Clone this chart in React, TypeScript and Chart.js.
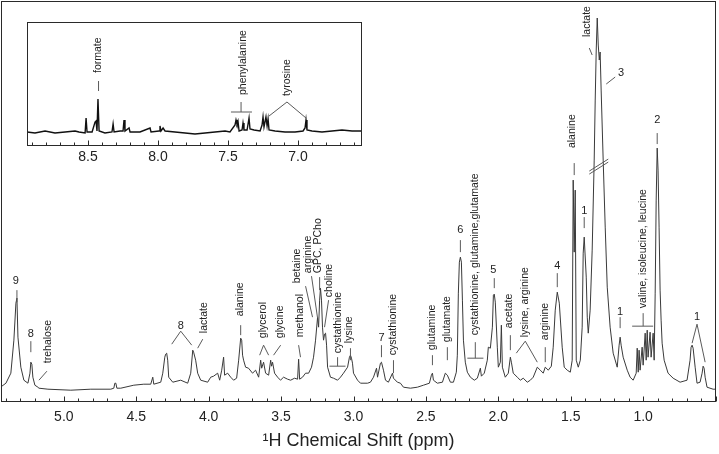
import React, { useEffect, useRef } from "react";
import { Chart, registerables } from "chart.js";
Chart.register(...registerables);

const FONT = '"Liberation Sans", Arial, Helvetica, sans-serif';

// ---- main spectrum (ppm, intensity) ----
const mainPpm = [
  5.428,5.400,5.366,5.345,5.331,5.324,5.317,5.297,5.276,5.248,
  5.234,5.228,5.221,5.214,5.200,5.179,5.172,5.110,4.952,4.814,
  4.676,4.655,4.648,4.641,4.634,4.607,4.517,4.448,4.400,4.386,
  4.379,4.331,4.317,4.303,4.297,4.290,4.283,4.276,4.248,4.193,
  4.145,4.124,4.110,4.104,4.090,4.076,4.055,4.007,3.986,3.966,
  3.938,3.924,3.910,3.897,3.890,3.869,3.848,3.828,3.807,3.793,
  3.779,3.772,3.766,3.759,3.745,3.725,3.697,3.676,3.655,3.641,
  3.634,3.621,3.607,3.586,3.572,3.566,3.559,3.545,3.524,3.504,
  3.483,3.455,3.434,3.407,3.386,3.379,3.372,3.352,3.331,3.310,
  3.290,3.276,3.262,3.248,3.241,3.234,3.228,3.221,3.214,3.207,
  3.200,3.193,3.186,3.179,3.159,3.138,3.110,3.090,3.069,3.041,
  3.028,3.021,3.014,3.007,3.000,2.972,2.952,2.903,2.883,2.862,
  2.841,2.834,2.814,2.807,2.793,2.779,2.759,2.731,2.724,2.697,
  2.676,2.655,2.607,2.559,2.517,2.476,2.462,2.455,2.448,2.421,
  2.386,2.366,2.352,2.331,2.310,2.290,2.283,2.276,2.269,2.262,
  2.255,2.248,2.241,2.228,2.214,2.193,2.166,2.145,2.124,2.117,
  2.097,2.076,2.069,2.055,2.041,2.034,2.028,2.021,2.007,2.000,
  1.986,1.979,1.972,1.952,1.931,1.917,1.910,1.897,1.869,1.848,
  1.828,1.800,1.779,1.759,1.731,1.710,1.690,1.676,1.655,1.634,
  1.621,1.607,1.593,1.579,1.559,1.545,1.524,1.503,1.490,1.483,
  1.476,1.469,1.462,1.448,1.434,1.421,1.414,1.407,1.393,1.386,
  1.379,1.366,1.352,1.338,1.331,1.324,1.317,1.310,1.303,1.297,
  1.290,1.276,1.262,1.248,1.228,1.207,1.179,1.166,1.159,1.152,
  1.138,1.110,1.090,1.069,1.048,1.041,1.034,1.028,1.021,1.007,
  1.000,0.986,0.979,0.972,0.966,0.952,0.945,0.931,0.924,0.917,
  0.910,0.903,0.897,0.890,0.883,0.876,0.869,0.855,0.828,0.793,
  0.745,0.697,0.676,0.669,0.662,0.655,0.641,0.628,0.607,0.593,
  0.586,0.579,0.572,0.559,0.517,0.497,
];
const mainIntensity = [
  16,19,29,62,99,104,65,35,22,19,
  29,40,38,25,17,15,14,13,12,13,
  13,14,19,19,14,14,17,18,18,25,
  18,20,29,45,48,49,42,25,20,22,
  19,29,52,50,42,29,22,20,25,26,
  29,22,32,45,27,29,25,22,24,42,
  64,62,47,42,35,34,29,32,25,42,
  34,40,29,27,42,36,40,29,25,22,
  25,23,22,24,23,43,23,25,29,29,
  35,45,62,85,75,102,114,102,75,62,
  68,69,57,35,25,24,22,25,29,35,
  45,47,44,39,29,22,19,19,20,25,
  34,25,39,40,32,22,20,29,24,20,
  19,15,14,15,17,19,27,29,22,19,
  20,29,27,20,20,30,47,109,140,145,
  140,102,62,40,30,25,22,24,34,26,
  29,42,55,54,75,107,108,100,55,35,
  40,77,35,25,29,45,40,29,25,22,
  24,20,22,25,35,32,29,35,32,36,
  55,92,110,99,55,35,32,30,42,222,
  150,212,42,35,42,75,149,165,125,85,
  69,92,152,242,302,352,384,357,342,350,
  312,242,175,115,75,49,35,57,65,57,
  45,32,25,22,29,54,30,52,32,55,
  37,69,42,72,45,70,45,69,42,109,
  202,254,232,175,112,82,59,42,29,24,
  20,22,42,55,57,54,35,19,20,29,
  36,34,25,15,13,13,
];

// ---- inset spectrum (aromatic region) ----
const insetPpm = [
  8.936,8.879,8.807,8.736,8.664,8.593,8.565,8.521,8.514,8.507,
  8.471,8.450,8.443,8.436,8.429,8.421,8.379,8.329,8.321,8.314,
  8.271,8.250,8.243,8.236,8.207,8.200,8.129,8.057,8.050,7.993,
  7.986,7.979,7.964,7.950,7.879,7.807,7.736,7.664,7.593,7.521,
  7.486,7.450,7.443,7.436,7.429,7.421,7.400,7.393,7.386,7.364,
  7.350,7.343,7.314,7.271,7.257,7.250,7.243,7.229,7.221,7.214,
  7.207,7.164,7.093,7.021,6.964,6.950,6.943,6.936,6.900,6.829,
  6.757,6.686,6.614,6.543,
];
const insetIntensity = [
  14,13,15,13,14,15,14,13,28,14,
  14,24,25,15,47,15,13,14,22,14,
  15,15,26,15,18,14,14,18,14,15,
  20,15,18,15,14,13,12,13,14,15,
  14,21,26,22,25,15,16,23,16,16,
  28,17,16,15,21,29,19,29,20,27,
  16,15,14,14,15,18,26,16,15,14,
  15,16,15,15,
];

// ---- axis settings ----
const mainRange = [0.497, 5.434];
const mainLabelRange = [1.0, 5.0];
const insetRange = [6.543, 8.936];
const insetLabelRange = [7.0, 8.5];
const xTitle = "\u00B9H Chemical Shift (ppm)";

type Lbl = { text: string; ppm: number; v: number };
type Seg = [number, number, number, number];

// ---- annotations (data coordinates) ----
const mainNumberLabels: Lbl[] = [
  { text: "9", ppm: 5.331, v: 121 },
  { text: "8", ppm: 5.228, v: 68 },
  { text: "8", ppm: 4.193, v: 76 },
  { text: "7", ppm: 2.807, v: 64 },
  { text: "6", ppm: 2.262, v: 172 },
  { text: "5", ppm: 2.034, v: 132 },
  { text: "4", ppm: 1.593, v: 136 },
  { text: "1", ppm: 1.407, v: 191 },
  { text: "3", ppm: 1.152, v: 329 },
  { text: "2", ppm: 0.903, v: 282 },
  { text: "1", ppm: 1.159, v: 90 },
  { text: "1", ppm: 0.628, v: 85 },
];
const mainNameLabels: Lbl[] = [
  { text: "trehalose", ppm: 5.11, v: 39 },
  { text: "lactate", ppm: 4.034, v: 69 },
  { text: "alanine", ppm: 3.786, v: 86 },
  { text: "glycerol", ppm: 3.621, v: 64 },
  { text: "glycine", ppm: 3.51, v: 64 },
  { text: "methanol", ppm: 3.372, v: 65 },
  { text: "betaine", ppm: 3.386, v: 119 },
  { text: "arginine", ppm: 3.31, v: 129 },
  { text: "GPC, PCho", ppm: 3.241, v: 129 },
  { text: "choline", ppm: 3.166, v: 105 },
  { text: "cystathionine", ppm: 3.103, v: 49 },
  { text: "lysine", ppm: 3.028, v: 59 },
  { text: "cystathionine", ppm: 2.724, v: 47 },
  { text: "glutamine", ppm: 2.455, v: 52 },
  { text: "glutamate", ppm: 2.352, v: 60 },
  { text: "cystathionine, glutamine,glutamate", ppm: 2.159, v: 67 },
  { text: "acetate", ppm: 1.924, v: 74 },
  { text: "lysine, arginine", ppm: 1.814, v: 65 },
  { text: "arginine", ppm: 1.676, v: 62 },
  { text: "alanine", ppm: 1.49, v: 254 },
  { text: "lactate", ppm: 1.386, v: 365 },
  { text: "valine, isoleucine, leucine", ppm: 1.0, v: 94 },
];
const mainSegments: Seg[] = [
  [5.324, 112, 5.324, 100],
  [5.228, 61, 5.228, 50],
  [5.117, 31, 5.172, 22],
  [4.193, 71, 4.255, 58], [4.193, 71, 4.117, 57],
  [4.041, 63, 4.076, 54],
  [3.779, 77, 3.779, 67],
  [3.621, 57, 3.648, 47], [3.621, 57, 3.586, 47],
  [3.503, 57, 3.552, 47],
  [3.379, 57, 3.366, 45],
  [3.331, 116, 3.283, 85],
  [3.29, 126, 3.248, 84],
  [3.234, 125, 3.234, 112],
  [3.172, 102, 3.2, 75],
  [3.166, 36, 3.055, 36], [3.11, 45, 3.11, 36],
  [3.021, 54, 3.021, 42],
  [2.807, 57, 2.807, 45],
  [2.724, 42, 2.724, 29],
  [2.455, 47, 2.455, 37],
  [2.352, 55, 2.352, 42],
  [2.262, 162, 2.262, 150],
  [2.214, 44, 2.103, 44], [2.159, 60, 2.159, 44],
  [2.028, 124, 2.028, 114],
  [1.917, 67, 1.917, 52],
  [1.814, 61, 1.876, 49], [1.814, 61, 1.731, 40],
  [1.676, 55, 1.676, 40],
  [1.593, 129, 1.593, 115],
  [1.476, 239, 1.476, 227],
  [1.407, 185, 1.407, 174],
  [1.372, 354, 1.352, 347],
  [1.193, 325, 1.255, 318],
  [0.903, 269, 0.903, 258],
  [1.159, 85, 1.159, 74],
  [1.076, 76, 0.931, 76], [1.0, 89, 1.0, 76],
  [0.628, 78, 0.662, 59], [0.628, 78, 0.572, 40],
  // axis break marks on the lactate peak
  [1.372, 228, 1.241, 240], [1.372, 231, 1.241, 243],
];
const insetNameLabels: Lbl[] = [
  { text: "formate", ppm: 8.429, v: 73 },
  { text: "phenylalanine", ppm: 7.393, v: 51 },
  { text: "tyrosine", ppm: 7.079, v: 50 },
];
const insetSegments: Seg[] = [
  [8.425, 65, 8.425, 55],
  [7.479, 34, 7.329, 34], [7.407, 44, 7.407, 34],
  [7.079, 44, 7.207, 30], [7.079, 44, 6.943, 28],
];

function overlay(opts: { names: Lbl[]; numbers: Lbl[]; segs: Seg[]; white: boolean }) {
  return {
    id: "overlay",
    beforeDatasetsDraw(chart: any) {
      if (!opts.white) return;
      const { ctx, chartArea: a } = chart;
      ctx.save();
      ctx.fillStyle = "#fff";
      ctx.fillRect(a.left, a.top, a.right - a.left, a.bottom - a.top);
      ctx.restore();
    },
    afterDatasetsDraw(chart: any) {
      const { ctx, chartArea: a, scales } = chart;
      const xs = scales.x;
      const ys = scales.y;
      ctx.save();
      const L = Math.round(a.left) + 0.5;
      const R = Math.round(a.right) - 0.5;
      const T = Math.round(a.top) + 0.5;
      const B = Math.round(a.bottom) - 0.5;
      ctx.strokeStyle = "#2a2a2a";
      ctx.lineWidth = 1;
      ctx.strokeRect(L, T, R - L, B - T);
      // inward tick marks: minor every 0.1, major every 0.5
      const lo = Math.ceil(Math.min(xs.min, xs.max) * 10 - 1e-6);
      const hi = Math.floor(Math.max(xs.min, xs.max) * 10 + 1e-6);
      ctx.beginPath();
      for (let i = lo; i <= hi; i++) {
        const px = Math.round(xs.getPixelForValue(i / 10)) + 0.5;
        const len = i % 5 === 0 ? 5 : 3;
        ctx.moveTo(px, B);
        ctx.lineTo(px, B - len);
      }
      ctx.stroke();
      // label leader lines
      ctx.strokeStyle = "#5a5a5a";
      ctx.beginPath();
      for (const [p1, v1, p2, v2] of opts.segs) {
        ctx.moveTo(xs.getPixelForValue(p1), ys.getPixelForValue(v1));
        ctx.lineTo(xs.getPixelForValue(p2), ys.getPixelForValue(v2));
      }
      ctx.stroke();
      ctx.fillStyle = "#222";
      ctx.font = `10.5px ${FONT}`;
      ctx.textAlign = "left";
      ctx.textBaseline = "middle";
      for (const l of opts.names) {
        ctx.save();
        ctx.translate(xs.getPixelForValue(l.ppm), ys.getPixelForValue(l.v));
        ctx.rotate(-Math.PI / 2);
        ctx.fillText(l.text, 0, 0);
        ctx.restore();
      }
      ctx.font = `11px ${FONT}`;
      ctx.textAlign = "center";
      for (const l of opts.numbers) {
        ctx.fillText(l.text, xs.getPixelForValue(l.ppm), ys.getPixelForValue(l.v));
      }
      ctx.restore();
    },
  };
}

function xAxis(range: number[], labelRange: number[], padding: number, title: string | null) {
  return {
    type: "linear" as const,
    reverse: true,
    min: range[0],
    max: range[1],
    position: "bottom" as const,
    afterBuildTicks: (scale: any) => {
      scale.ticks = scale.ticks.filter(
        (t: any) => t.value >= labelRange[0] - 1e-6 && t.value <= labelRange[1] + 1e-6
      );
    },
    ticks: {
      stepSize: 0.5,
      includeBounds: false,
      autoSkip: false,
      maxRotation: 0,
      minRotation: 0,
      padding,
      color: "#222",
      font: { family: FONT, size: 14 },
      callback: (v: any) => Number(v).toFixed(1),
    },
    grid: { display: false, drawTicks: false },
    border: { display: false },
    title: title
      ? {
          display: true,
          text: title,
          color: "#222",
          font: { family: FONT, size: 18, lineHeight: 1 },
          padding: { top: 0, bottom: 0 },
        }
      : { display: false },
  };
}

export default function App() {
  const mainRef = useRef<HTMLCanvasElement | null>(null);
  const insetRef = useRef<HTMLCanvasElement | null>(null);

  useEffect(() => {
    const main = new Chart(mainRef.current as HTMLCanvasElement, {
      type: "line",
      data: {
        datasets: [
          {
            data: mainPpm.map((p, i) => ({ x: p, y: mainIntensity[i] })),
            borderColor: "#3a3a3a",
            borderWidth: 1,
            pointRadius: 0,
            tension: 0,
            fill: false,
          },
        ],
      },
      options: {
        animation: false,
        responsive: false,
        maintainAspectRatio: false,
        events: [],
        layout: { padding: { left: 1, right: 3, top: 1, bottom: 4 } },
        plugins: { legend: { display: false }, tooltip: { enabled: false } },
        scales: {
          x: xAxis(mainRange, mainLabelRange, 6.5, xTitle) as any,
          y: { display: false, min: 0, max: 401 },
        },
      },
      plugins: [overlay({ names: mainNameLabels, numbers: mainNumberLabels, segs: mainSegments, white: false })],
    });
    const inset = new Chart(insetRef.current as HTMLCanvasElement, {
      type: "line",
      data: {
        datasets: [
          {
            data: insetPpm.map((p, i) => ({ x: p, y: insetIntensity[i] })),
            borderColor: "#111",
            borderWidth: 1.4,
            pointRadius: 0,
            tension: 0,
            fill: false,
          },
        ],
      },
      options: {
        animation: false,
        responsive: false,
        maintainAspectRatio: false,
        events: [],
        layout: { padding: { left: 7, right: 8, top: 7, bottom: 1.2 } },
        plugins: { legend: { display: false }, tooltip: { enabled: false } },
        scales: {
          x: xAxis(insetRange, insetLabelRange, 3, null) as any,
          y: { display: false, min: 0, max: 124 },
        },
      },
      plugins: [overlay({ names: insetNameLabels, numbers: [], segs: insetSegments, white: true })],
    });
    return () => {
      main.destroy();
      inset.destroy();
    };
  }, []);

  return (
    <div style={{ position: "fixed", left: 0, top: 0, width: 719, height: 454, background: "#fff" }}>
      <canvas
        ref={mainRef}
        width={719}
        height={454}
        style={{ position: "absolute", left: 0, top: 0, width: 719, height: 454 }}
      />
      <canvas
        ref={insetRef}
        width={350}
        height={155}
        style={{ position: "absolute", left: 20, top: 15, width: 350, height: 155 }}
      />
    </div>
  );
}
